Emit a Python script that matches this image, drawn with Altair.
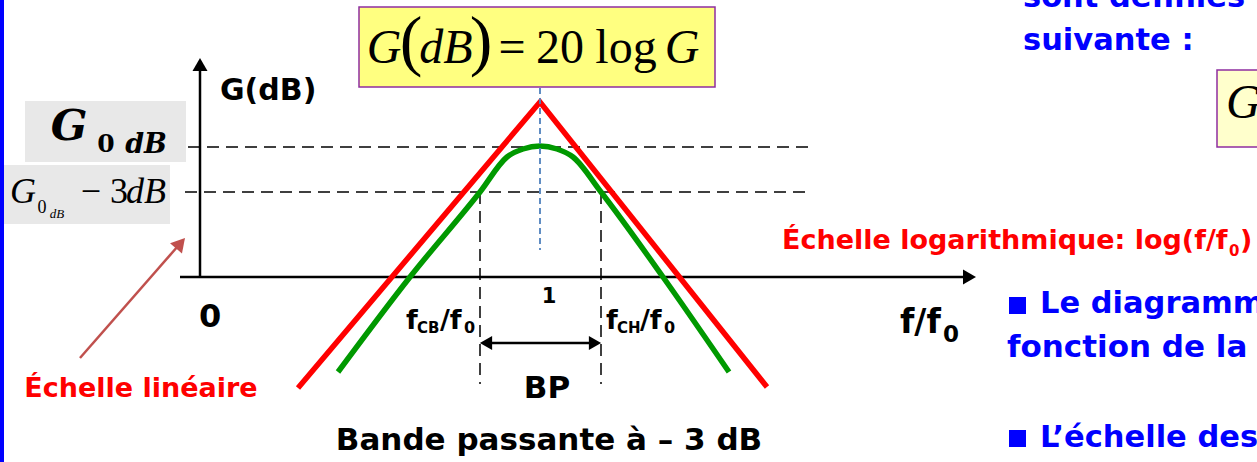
import altair as alt
import pandas as pd

# ---------------------------------------------------------------------------
# Band-pass gain diagram.  Horizontal unit: log(f/f0) (plot units),
# vertical unit: gain (plot units, 0 on the horizontal axis).
# ---------------------------------------------------------------------------
asym_logf = [-2.42, 0.0, 2.27]          # asymptotic (red) gain
asym_gain = [-11.1, 17.5, -11.0]

real_logf = [-2.02, -1.30, -0.60, -0.33, -0.17, 0.0, 0.17, 0.33, 0.61, 1.23, 1.89]
real_gain = [-9.5, 0.0, 8.5, 12.0, 12.8, 13.1, 12.8, 12.0, 8.5, 0.0, -9.5]

g0_level = 13.0        # G0dB
g0_minus3 = 8.5        # G0dB - 3 dB
f_cb = -0.60           # log(fCB/f0)
f_ch = 0.61            # log(fCH/f0)

SANS = "DejaVu Sans"
SERIF = "Liberation Serif"
SERIF_B = "DejaVu Serif"
RED = "#ff0000"
GREEN = "#009900"
BLUE = "#0000ff"

XS = alt.Scale(domain=[-5.4, 7.17], nice=False, zero=False)
YS = alt.Scale(domain=[-18.5, 27.7], nice=False, zero=False)
ONE = pd.DataFrame({"k": [0]})


def X(field):
    return alt.X(field, type="quantitative", scale=XS, axis=None)


def Y(field):
    return alt.Y(field, type="quantitative", scale=YS, axis=None)


def segment(x1, y1, x2, y2, **mark):
    df = pd.DataFrame({"x": [x1], "y": [y1], "x2": [x2], "y2": [y2]})
    return alt.Chart(df).mark_rule(**mark).encode(
        x=X("x"), y=Y("y"), x2="x2:Q", y2="y2:Q")


def head(x, y, shape, size, color="black", angle=0):
    df = pd.DataFrame({"x": [x], "y": [y]})
    return alt.Chart(df).mark_point(
        shape=shape, size=size, filled=True, color=color, opacity=1,
        strokeWidth=0, angle=angle).encode(x=X("x"), y=Y("y"))


def label(s, x, y, size, color="black", font=SANS, weight="bold",
          style="normal", align="left"):
    return alt.Chart(ONE).mark_text(
        text=s, font=font, fontSize=size, fontWeight=weight, fontStyle=style,
        color=color, align=align, baseline="alphabetic").encode(
        x=alt.value(x), y=alt.value(y))


def box(x1, y1, x2, y2, fill, stroke=None, sw=0):
    kw = dict(fill=fill)
    if stroke:
        kw.update(stroke=stroke, strokeWidth=sw)
    return alt.Chart(ONE).mark_rect(**kw).encode(
        x=alt.value(x1), x2=alt.value(x2), y=alt.value(y1), y2=alt.value(y2))


asym = pd.DataFrame({"logf": asym_logf, "gain": asym_gain})
real = pd.DataFrame({"logf": real_logf, "gain": real_gain})

layers = []

# slide frame and boxes
layers += [
    box(0, 0, 4, 462, BLUE),
    box(359, 7, 715, 87, "#ffff80", "#8e2ea0", 1.5),
    box(1217, 70, 1262, 147, "#ffffcc", "#8e2ea0", 1.5),
    box(25, 101, 186, 162, "#e8e8e8"),
    box(4, 165, 170, 224, "#e8e8e8"),
]

# reference levels and cut-off markers
layers += [
    segment(-3.52, g0_level, 2.75, g0_level, color="black", strokeWidth=1.5, strokeDash=[12, 7]),
    segment(-3.55, g0_minus3, 2.65, g0_minus3, color="black", strokeWidth=1.5, strokeDash=[12, 7]),
    segment(f_cb, g0_minus3, f_cb, -10.7, color="black", strokeWidth=1.5, strokeDash=[12, 7]),
    segment(f_ch, g0_minus3, f_ch, -10.7, color="black", strokeWidth=1.5, strokeDash=[12, 7]),
]

# axes with arrow heads
layers += [
    segment(-3.6, 0, 4.25, 0, color="black", strokeWidth=2.5),
    head(4.295, 0, "triangle-right", 225),
    segment(-3.4, 0, -3.4, 20.7, color="black", strokeWidth=2.5),
    head(-3.4, 21.25, "triangle-up", 225),
]

# pass band arrow
layers += [
    segment(f_cb + 0.05, -6.6, f_ch - 0.05, -6.6, color="black", strokeWidth=2.5),
    head(f_cb + 0.06, -6.6, "triangle-left", 200),
    head(f_ch - 0.06, -6.6, "triangle-right", 200),
]

# gain curves
layers += [
    alt.Chart(asym).mark_line(color=RED, strokeWidth=5.5, strokeCap="butt").encode(
        x=X("logf"), y=Y("gain")),
    alt.Chart(real).mark_line(color=GREEN, strokeWidth=5.5, strokeCap="butt",
                              interpolate="monotone").encode(
        x=X("logf"), y=Y("gain")),
    segment(0, 18.9, 0, 2.7, color="#4f81bd", strokeWidth=1.8, strokeDash=[6, 4]),
]

# arrow pointing at the linear gain scale
layers += [
    alt.Chart(ONE).mark_rule(color="#c0504d", strokeWidth=2.5).encode(
        x=alt.value(80), y=alt.value(358), x2=alt.value(178), y2=alt.value(246)),
    alt.Chart(ONE).mark_point(shape="triangle-up", size=250, filled=True, opacity=1,
                              color="#c0504d", strokeWidth=0, angle=41).encode(
        x=alt.value(180.5), y=alt.value(243.2)),
]

# formula G(dB) = 20 log G
layers += [
    label("G", 384, 63, 48, font=SERIF, weight="normal", style="italic", align="center"),
    label("(", 411, 63, 68, font=SERIF, weight="normal", align="center"),
    label("dB", 446, 63, 48, font=SERIF, weight="normal", style="italic", align="center"),
    label(")", 481, 63, 68, font=SERIF, weight="normal", align="center"),
    label("=", 512, 63, 48, font=SERIF, weight="normal", align="center"),
    label("20", 560, 63, 48, font=SERIF, weight="normal", align="center"),
    label("log", 626, 63, 48, font=SERIF, weight="normal", align="center"),
    label("G", 682, 63, 48, font=SERIF, weight="normal", style="italic", align="center"),
    label("G", 1226, 118, 48, font=SERIF, weight="normal", style="italic"),
]

# level labels
layers += [
    label("G", 69, 140, 43, font=SERIF_B, style="italic", align="center"),
    label("0", 106, 152, 25, font=SERIF_B, align="center"),
    label("dB", 146, 153, 27, font=SERIF_B, style="italic", align="center"),
    label("G", 23, 203, 36, font=SERIF, weight="normal", style="italic", align="center"),
    label("0", 42, 213, 18, font=SERIF, weight="normal", align="center"),
    label("dB", 57, 218, 13, font=SERIF, weight="normal", style="italic", align="center"),
    label("\u2212", 91, 203, 36, font=SERIF, weight="normal", align="center"),
    label("3", 119, 203, 36, font=SERIF, weight="normal", align="center"),
    label("dB", 146, 203, 36, font=SERIF, weight="normal", style="italic", align="center"),
]

# axis and diagram labels
layers += [
    label("G(dB)", 220, 100, 30),
    label("0", 210, 327, 32, align="center"),
    label("1", 549, 303, 21, align="center"),
    label("f", 406, 329, 27), label("CB", 417, 333, 15),
    label("/f", 440, 329, 27), label("0", 464, 333, 16),
    label("f", 606, 329, 27), label("CH", 617, 333, 15),
    label("/f", 640, 329, 27), label("0", 664, 333, 16),
    label("f/f", 900, 333, 33), label("0", 943, 342, 23),
    label("BP", 547, 398, 31, align="center"),
    label("Bande passante à \u2013 3 dB", 549, 450, 31, align="center"),
    label("Échelle linéaire", 141, 397, 27, color=RED, align="center"),
    label("Échelle logarithmique: log(f/f", 782, 249, 27, color=RED),
    label("0", 1229, 256, 15, color=RED),
    label(")", 1240, 249, 27, color=RED),
]

# slide text on the right
layers += [
    label("sont définies", 1023, 7, 30.5, color=BLUE),
    label("suivante :", 1023, 50, 30.5, color=BLUE),
    box(1009, 297, 1026, 314, BLUE),
    label("Le diagramme de Bode", 1040, 313, 30.5, color=BLUE),
    label("fonction de la fréquence", 1007, 357, 31, color=BLUE),
    box(1009, 430, 1026, 447, BLUE),
    label("L\u2019échelle des gains", 1040, 447, 30.5, color=BLUE),
]

chart = alt.layer(*layers).properties(
    width=1257, height=462, padding=0, background="white",
    autosize=alt.AutoSizeParams(type="none"),
).configure_view(stroke=None)

chart.save("out.html", embed_options={"renderer": "svg", "actions": False})
